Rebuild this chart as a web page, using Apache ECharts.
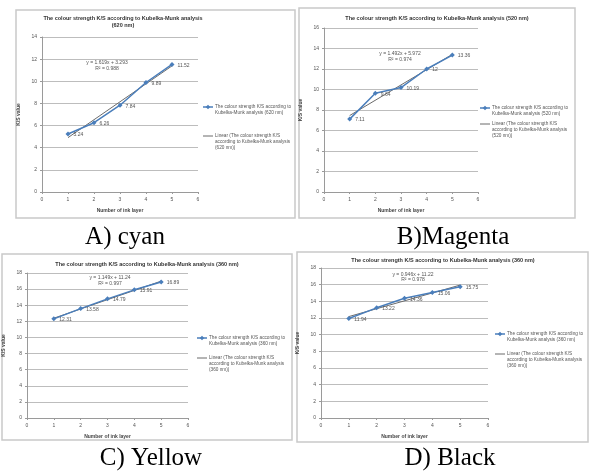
<!DOCTYPE html>
<html><head><meta charset="utf-8">
<script src="https://cdn.jsdelivr.net/npm/echarts@6/dist/echarts.min.js"></script>
<style>html,body{margin:0;padding:0;background:#fff}#c{width:589px;height:472px}</style>
</head><body><div id="c"></div>
<script>
// ---- data ----
const layers = [1, 2, 3, 4, 5];
const xTickValues = [0, 1, 2, 3, 4, 5, 6];
const ksCyan = [5.24, 6.26, 7.84, 9.89, 11.52];
const ksMagenta = [7.11, 9.64, 10.19, 12, 13.36];
const ksYellow = [12.31, 13.58, 14.79, 15.91, 16.89];
const ksBlack = [11.94, 13.22, 14.36, 15.06, 15.75];
// linear trendline values at x = 1 and x = 5
const trendX = [1, 5];
const trendCyan = [4.91, 11.39];
const trendMagenta = [7.46, 13.43];
const trendYellow = [12.39, 16.99];
const trendBlack = [12.17, 15.95];
const yMaxes = [14, 16, 18, 18];
const wavelengths = ['620 nm', '520 nm', '360 nm', '360 nm'];
const equations = ['y = 1.619x + 3.293', 'y = 1.492x + 5.972', 'y = 1.149x + 11.24', 'y = 0.946x + 11.22'];
const rSquared = ['R² = 0.988', 'R² = 0.974', 'R² = 0.997', 'R² = 0.978'];
const captions = ['A) cyan', 'B)Magenta', 'C) Yellow', 'D) Black'];

// ---- layout (styles only) ----
const FONT = 'Liberation Sans';
const panels = [
  {ks: ksCyan, trend: trendCyan, frame: [16, 10, 279, 208], grid: {left: 42, top: 37, width: 156, height: 155},
   titleLines: true, title: [123, 15], eq: [107, 65.5], legend: [203, 104, 133], cap: [125, 237]},
  {ks: ksMagenta, trend: trendMagenta, frame: [299, 8, 276, 210], grid: {left: 324, top: 28, width: 154, height: 164},
   titleLines: false, title: [437, 15], eq: [400, 56.5], legend: [480, 105, 121], cap: [453, 237]},
  {ks: ksYellow, trend: trendYellow, frame: [2, 254, 290, 186], grid: {left: 27, top: 273, width: 161, height: 145},
   titleLines: false, title: [147, 261], eq: [110, 280.5], legend: [197, 335, 355], cap: [151, 458]},
  {ks: ksBlack, trend: trendBlack, frame: [297, 252, 291, 190], grid: {left: 321, top: 268, width: 167, height: 150},
   titleLines: false, title: [443, 257], eq: [413, 277], legend: [495, 331, 351], cap: [450, 458]}
];

const BLUE = '#4A7EBB';
const TREND = '#6b6b6b';
const grids = [], xAxes = [], yAxes = [], series = [], graphics = [];

panels.forEach((p, i) => {
  grids.push(Object.assign({containLabel: false}, p.grid));
  xAxes.push({
    type: 'value', gridIndex: i, min: xTickValues[0], max: xTickValues[xTickValues.length - 1], interval: 1,
    axisLine: {show: true, lineStyle: {color: '#9a9a9a', width: 1}},
    axisTick: {show: true, length: 2, lineStyle: {color: '#9a9a9a'}},
    axisLabel: {fontSize: 5, color: '#555', fontFamily: FONT, margin: 5},
    splitLine: {show: false},
    name: 'Number of ink layer', nameLocation: 'middle', nameGap: 16,
    nameTextStyle: {fontSize: 5, fontWeight: 'bold', color: '#444', fontFamily: FONT}
  });
  yAxes.push({
    type: 'value', gridIndex: i, min: 0, max: yMaxes[i], interval: 2,
    axisLine: {show: true, lineStyle: {color: '#9a9a9a', width: 1}},
    axisTick: {show: true, length: 2, lineStyle: {color: '#9a9a9a'}},
    axisLabel: {fontSize: 5, color: '#555', fontFamily: FONT, margin: 5},
    splitLine: {show: true, lineStyle: {color: '#bdbdbd', width: 1}},
    name: 'K/S value', nameLocation: 'middle', nameGap: 21,
    nameTextStyle: {fontSize: 5, fontWeight: 'bold', color: '#444', fontFamily: FONT}
  });
  const seriesName = 'The colour strength K/S according to Kubelka-Munk analysis (' + wavelengths[i] + ')';
  series.push({
    name: 'Linear (' + seriesName + ')', type: 'line', xAxisIndex: i, yAxisIndex: i,
    data: trendX.map((x, j) => [x, p.trend[j]]),
    symbol: 'none', lineStyle: {color: TREND, width: 1}, itemStyle: {color: TREND},
    silent: true, z: 2
  });
  series.push({
    name: seriesName, type: 'line', xAxisIndex: i, yAxisIndex: i,
    data: layers.map((x, j) => [x, p.ks[j]]),
    symbol: 'diamond', symbolSize: 5, showAllSymbol: true,
    lineStyle: {color: BLUE, width: 1.5}, itemStyle: {color: BLUE},
    label: {show: true, position: 'right', distance: 3, offset: [0, 1], fontSize: 5, color: '#555', fontFamily: FONT,
      formatter: d => String(d.value[1])},
    z: 3
  });
  // frame
  graphics.push({type: 'rect', shape: {x: p.frame[0], y: p.frame[1], width: p.frame[2], height: p.frame[3]},
    style: {fill: 'none', stroke: '#c9c9c9', lineWidth: 1.5}, z: -1});
  // title
  const ttl = p.titleLines
    ? 'The colour strength K/S according to Kubelka-Munk analysis\n(' + wavelengths[i] + ')'
    : 'The colour strength K/S according to Kubelka-Munk analysis (' + wavelengths[i] + ')';
  graphics.push({type: 'text', x: p.title[0], y: p.title[1],
    style: {text: ttl, fontSize: 5.5, fontWeight: 'bold', fill: '#333', fontFamily: FONT, textAlign: 'center', lineHeight: 7}});
  // trendline equation
  graphics.push({type: 'text', x: p.eq[0], y: p.eq[1],
    style: {text: equations[i] + '\n' + rSquared[i], fontSize: 5, fill: '#555', fontFamily: FONT, textAlign: 'center', textVerticalAlign: 'middle', lineHeight: 5.5}});
  // legend (drawn)
  const lx = p.legend[0], ly1 = p.legend[1], ly2 = p.legend[2];
  graphics.push({type: 'line', shape: {x1: lx, y1: ly1 + 3, x2: lx + 10, y2: ly1 + 3}, style: {stroke: BLUE, lineWidth: 1.5}});
  graphics.push({type: 'polygon', shape: {points: [[lx + 5, ly1 + 0.8], [lx + 7.2, ly1 + 3], [lx + 5, ly1 + 5.2], [lx + 2.8, ly1 + 3]]}, style: {fill: BLUE}});
  graphics.push({type: 'text', x: lx + 12, y: ly1,
    style: {text: 'The colour strength K/S according to\nKubelka-Munk analysis (' + wavelengths[i] + ')',
      fontSize: 4.7, lineHeight: 6, fill: '#555', fontFamily: FONT, textVerticalAlign: 'top'}});
  graphics.push({type: 'line', shape: {x1: lx, y1: ly2 + 3, x2: lx + 10, y2: ly2 + 3}, style: {stroke: TREND, lineWidth: 1}});
  graphics.push({type: 'text', x: lx + 12, y: ly2,
    style: {text: 'Linear (The colour strength K/S\naccording to Kubelka-Munk analysis\n(' + wavelengths[i] + '))',
      fontSize: 4.7, lineHeight: 6, fill: '#555', fontFamily: FONT, textVerticalAlign: 'top'}});
  // caption
  graphics.push({type: 'text', x: p.cap[0], y: p.cap[1],
    style: {text: captions[i], fontSize: 25, fill: '#000', fontFamily: 'Liberation Serif', textAlign: 'center', textVerticalAlign: 'middle'}});
});

const chart = echarts.init(document.getElementById('c'), null, {renderer: 'canvas'});
chart.setOption({
  animation: false,
  backgroundColor: '#fff',
  grid: grids, xAxis: xAxes, yAxis: yAxes, series: series,
  graphic: graphics
});
</script></body></html>
